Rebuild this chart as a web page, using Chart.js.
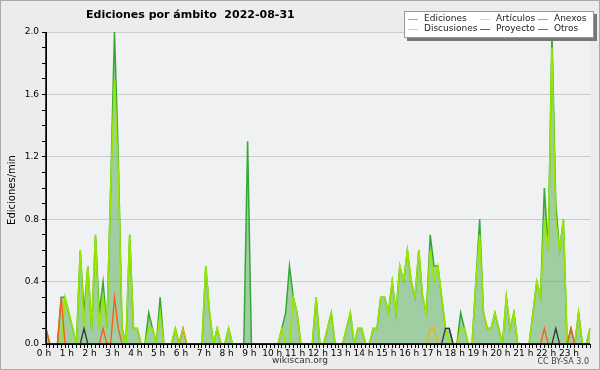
<!DOCTYPE html>
<html>
<head>
<meta charset="utf-8">
<script src="https://cdn.jsdelivr.net/npm/chart.js@4/dist/chart.umd.min.js"></script>
<style>
  body { margin: 0; background: #ececec; }
  #wrap { width: 600px; height: 370px; }
</style>
</head>
<body>
<div id="wrap"><canvas id="myChart" width="600" height="370"></canvas></div>
<script>
/****************
--- VARIABLES ---
*****************/

const title = "Ediciones por ámbito  2022-08-31";
const yTitle = "Ediciones/min";

// 10 minute slots, one row = 2 hours
const hourLabels = ["0 h", "1 h", "2 h", "3 h", "4 h", "5 h", "6 h", "7 h", "8 h", "9 h", "10 h", "11 h",
  "12 h", "13 h", "14 h", "15 h", "16 h", "17 h", "18 h", "19 h", "20 h", "21 h", "22 h", "23 h"];
const slots = [];
hourLabels.forEach((h, i) => {
  for (let m = 0; m < 60; m += 10) slots.push(`${i}:${m < 10 ? "0" + m : m}`);
});

const ediciones = [
  0.1, 0, 0, 0, 0.3, 0.3, 0.2, 0.1, 0, 0.6, 0.2, 0.5,
  0.1, 0.7, 0.2, 0.4, 0.1, 1.0, 2.0, 1.2, 0.1, 0, 0.7, 0.1,
  0.1, 0, 0, 0.2, 0.1, 0, 0.3, 0, 0, 0, 0.1, 0,
  0.1, 0, 0, 0, 0, 0, 0.5, 0.2, 0, 0.1, 0, 0,
  0.1, 0, 0, 0, 0, 1.3, 0, 0, 0, 0, 0, 0,
  0, 0, 0.1, 0.2, 0.5, 0.3, 0.2, 0, 0, 0, 0, 0.3,
  0, 0, 0.1, 0.2, 0, 0, 0, 0.1, 0.2, 0, 0.1, 0.1,
  0, 0, 0.1, 0.1, 0.3, 0.3, 0.2, 0.4, 0.2, 0.5, 0.4, 0.6,
  0.4, 0.3, 0.6, 0.3, 0.2, 0.7, 0.5, 0.5, 0.3, 0.1, 0.1, 0,
  0, 0.2, 0.1, 0, 0, 0.4, 0.8, 0.2, 0.1, 0.1, 0.2, 0.1,
  0, 0.3, 0.1, 0.2, 0, 0, 0, 0, 0.2, 0.4, 0.3, 1.0,
  0.6, 2.0, 0.9, 0.6, 0.8, 0, 0.1, 0, 0.2, 0, 0, 0.1,
];
const articulos = [
  0, 0, 0, 0, 0, 0.3, 0.2, 0.1, 0, 0.6, 0.1, 0.5,
  0.1, 0.7, 0.1, 0.3, 0.1, 1.0, 1.7, 1.1, 0.1, 0, 0.7, 0.1,
  0.1, 0, 0, 0.1, 0.1, 0, 0.2, 0, 0, 0, 0.1, 0,
  0, 0, 0, 0, 0, 0, 0.5, 0.2, 0, 0.1, 0, 0,
  0.1, 0, 0, 0, 0, 0, 0, 0, 0, 0, 0, 0,
  0, 0, 0.1, 0, 0, 0.3, 0.2, 0, 0, 0, 0, 0.3,
  0, 0, 0.1, 0.2, 0, 0, 0, 0.1, 0.2, 0, 0.1, 0.1,
  0, 0, 0.1, 0.1, 0.3, 0.3, 0.2, 0.4, 0.2, 0.5, 0.4, 0.6,
  0.4, 0.3, 0.6, 0.3, 0.2, 0.6, 0.4, 0.5, 0.3, 0.1, 0, 0,
  0, 0.1, 0.1, 0, 0, 0.4, 0.7, 0.2, 0.1, 0.1, 0.2, 0.1,
  0, 0.3, 0.1, 0.2, 0, 0, 0, 0, 0.2, 0.4, 0.3, 0.8,
  0.6, 1.9, 0.8, 0.6, 0.8, 0, 0, 0, 0.2, 0, 0, 0.1,
];
const anexos = [
  0.1, 0, 0, 0, 0.3, 0, 0, 0, 0, 0, 0, 0,
  0, 0, 0, 0.1, 0, 0, 0.3, 0.1, 0, 0, 0, 0,
  0, 0, 0, 0, 0, 0, 0, 0, 0, 0, 0, 0,
  0, 0, 0, 0, 0, 0, 0, 0, 0, 0, 0, 0,
  0, 0, 0, 0, 0, 0, 0, 0, 0, 0, 0, 0,
  0, 0, 0, 0, 0, 0, 0, 0, 0, 0, 0, 0,
  0, 0, 0, 0, 0, 0, 0, 0, 0, 0, 0, 0,
  0, 0, 0, 0, 0, 0, 0, 0, 0, 0, 0, 0,
  0, 0, 0, 0, 0, 0, 0, 0, 0, 0, 0, 0,
  0, 0, 0, 0, 0, 0, 0, 0, 0, 0, 0, 0,
  0, 0, 0, 0, 0, 0, 0, 0, 0, 0, 0, 0.1,
  0, 0, 0, 0, 0, 0, 0.1, 0, 0, 0, 0, 0,
];
const discusiones = [
  0, 0, 0, 0, 0, 0, 0, 0, 0, 0, 0, 0,
  0, 0, 0, 0, 0, 0, 0, 0, 0, 0, 0, 0,
  0, 0, 0, 0, 0, 0, 0, 0, 0, 0, 0, 0,
  0.1, 0, 0, 0, 0, 0, 0, 0, 0, 0, 0, 0,
  0, 0, 0, 0, 0, 0, 0, 0, 0, 0, 0, 0,
  0, 0, 0, 0, 0, 0, 0, 0, 0, 0, 0, 0,
  0, 0, 0, 0, 0, 0, 0, 0, 0, 0, 0, 0,
  0, 0, 0, 0, 0, 0, 0, 0, 0, 0, 0, 0,
  0, 0, 0, 0, 0, 0.1, 0.1, 0, 0, 0, 0, 0,
  0, 0, 0, 0, 0, 0, 0, 0, 0, 0, 0, 0,
  0, 0, 0, 0, 0, 0, 0, 0, 0, 0, 0, 0,
  0, 0, 0, 0, 0, 0, 0, 0, 0, 0, 0, 0,
];
const proyecto = [
  0, 0, 0, 0, 0, 0, 0, 0, 0, 0, 0.1, 0,
  0, 0, 0, 0, 0, 0, 0, 0, 0, 0, 0, 0,
  0, 0, 0, 0, 0, 0, 0, 0, 0, 0, 0, 0,
  0, 0, 0, 0, 0, 0, 0, 0, 0, 0, 0, 0,
  0, 0, 0, 0, 0, 0, 0, 0, 0, 0, 0, 0,
  0, 0, 0, 0, 0, 0, 0, 0, 0, 0, 0, 0,
  0, 0, 0, 0, 0, 0, 0, 0, 0, 0, 0, 0,
  0, 0, 0, 0, 0, 0, 0, 0, 0, 0, 0, 0,
  0, 0, 0, 0, 0, 0, 0, 0, 0, 0.1, 0.1, 0,
  0, 0, 0, 0, 0, 0, 0, 0, 0, 0, 0, 0,
  0, 0, 0, 0, 0, 0, 0, 0, 0, 0, 0, 0,
  0, 0, 0.1, 0, 0, 0, 0, 0, 0, 0, 0, 0,
];
const otros = new Array(slots.length).fill(0);

// legend: [label, colour, column x, row y]
const legendItems = [
  ["Ediciones", "#80c880", 408, 19],
  ["Discusiones", "#f8cc40", 408, 29],
  ["Artículos", "#c8ec60", 480, 19],
  ["Proyecto", "#606060", 480, 29],
  ["Anexos", "#ff8050", 538, 19],
  ["Otros", "#9050e8", 538, 29],
];

/*******************
  --- FUNCTIONS ---
********************/

const isMajor = (v) => Math.round(v * 10) % 4 === 0;

const decor = {
  id: "decor",
  beforeDraw(chart) {
    const { ctx, chartArea: a } = chart;
    ctx.save();
    ctx.fillStyle = "#ececec";
    ctx.fillRect(0, 0, 600, 370);
    ctx.strokeStyle = "#aaaaaa";
    ctx.lineWidth = 1;
    ctx.strokeRect(0.5, 0.5, 599, 369);
    ctx.fillStyle = "#f0f1f2";
    ctx.fillRect(a.left, a.top, a.right - a.left, a.bottom - a.top);
    ctx.restore();
  },
  afterDatasetsDraw(chart) {
    // axis lines over the zero-level series lines
    const { ctx, chartArea: a } = chart;
    ctx.save();
    ctx.strokeStyle = "#000";
    ctx.lineWidth = 1.5;
    ctx.beginPath();
    ctx.moveTo(a.left, a.top);
    ctx.lineTo(a.left, a.bottom);
    ctx.lineTo(a.right, a.bottom);
    ctx.stroke();
    ctx.restore();
  },
  afterDraw(chart) {
    const { ctx } = chart;
    ctx.save();
    // title
    ctx.fillStyle = "#000";
    ctx.font = "bold 11px 'DejaVu Sans'";
    ctx.textBaseline = "alphabetic";
    ctx.textAlign = "left";
    ctx.fillText(title, 86, 18);

    // y title
    ctx.save();
    ctx.translate(12, 190);
    ctx.rotate(-Math.PI / 2);
    ctx.textAlign = "center";
    ctx.textBaseline = "middle";
    ctx.font = "10px 'DejaVu Sans'";
    ctx.fillText(yTitle, 0, 0);
    ctx.restore();

    // legend box
    ctx.fillStyle = "#777";
    ctx.fillRect(407, 14, 190, 27);
    ctx.fillStyle = "#fff";
    ctx.fillRect(404, 11, 190, 27);
    ctx.strokeStyle = "#999";
    ctx.lineWidth = 1;
    ctx.strokeRect(404.5, 11.5, 189, 26);
    ctx.font = "9px 'DejaVu Sans'";
    ctx.textBaseline = "middle";
    ctx.textAlign = "left";
    legendItems.forEach(([label, color, x, y]) => {
      ctx.strokeStyle = color;
      ctx.lineWidth = 1;
      ctx.beginPath();
      ctx.moveTo(x, y + 0.5);
      ctx.lineTo(x + 10, y + 0.5);
      ctx.stroke();
      ctx.fillStyle = "#222";
      ctx.fillText(label, x + 16, y);
    });

    // footer
    ctx.fillStyle = "#333";
    ctx.font = "9px 'DejaVu Sans'";
    ctx.textAlign = "center";
    ctx.fillText("wikiscan.org", 300, 361);
    ctx.font = "8px 'DejaVu Sans'";
    ctx.textAlign = "right";
    ctx.fillStyle = "#444";
    ctx.fillText("CC BY-SA 3.0", 589, 362);
    ctx.restore();
  },
};

Chart.defaults.font.family = "'DejaVu Sans', sans-serif";
Chart.defaults.font.size = 9;
Chart.defaults.color = "#000";

const line = (label, data, color, width, order, extra) => ({
  label: label,
  data: data,
  borderColor: color,
  borderWidth: width,
  pointRadius: 0,
  tension: 0,
  fill: false,
  order: order,
  ...extra,
});

const ctx = document.getElementById("myChart").getContext("2d");
const myChart = new Chart(ctx, {
  type: "line",
  data: {
    labels: slots,
    datasets: [
      line("Ediciones", ediciones, "#34a834", 1.5, 10, { fill: "origin", backgroundColor: "rgba(80,170,80,0.5)" }),
      line("Artículos", articulos, "#99e600", 1.6, 5),
      line("Anexos", anexos, "#ff5a10", 1.3, 1),
      line("Discusiones", discusiones, "#f0b400", 1.3, 1),
      line("Proyecto", proyecto, "#333333", 1.3, 1),
      line("Otros", otros, "#8833ee", 1.3, 1),
    ],
  },
  options: {
    responsive: false,
    animation: false,
    layout: { padding: { left: 0, top: 32, right: 10, bottom: 0 } },
    plugins: { legend: { display: false }, tooltip: { enabled: false } },
    scales: {
      x: {
        type: "category",
        offset: false,
        afterFit: (scale) => { scale.height = 26; },
        grid: { drawOnChartArea: false, tickColor: "#000", tickLength: 4 },
        border: { display: true, color: "#000" },
        ticks: {
          autoSkip: false,
          maxRotation: 0,
          padding: 0,
          labelOffset: -2,
          callback: (val, idx) => (idx % 6 === 0 ? hourLabels[idx / 6] : ""),
        },
      },
      y: {
        min: 0,
        max: 2,
        afterFit: (scale) => { scale.width = 46; },
        grid: {
          color: (c) => (c.tick && c.tick.value > 0 && isMajor(c.tick.value) ? "#cccccc" : "rgba(0,0,0,0)"),
          tickColor: "#000",
          tickLength: 4,
        },
        border: { display: true, color: "#000" },
        ticks: {
          stepSize: 0.1,
          autoSkip: false,
          padding: 3,
          callback: (v) => (isMajor(v) ? v.toFixed(1) : ""),
        },
      },
    },
  },
  plugins: [decor],
});
</script>
</body>
</html>
